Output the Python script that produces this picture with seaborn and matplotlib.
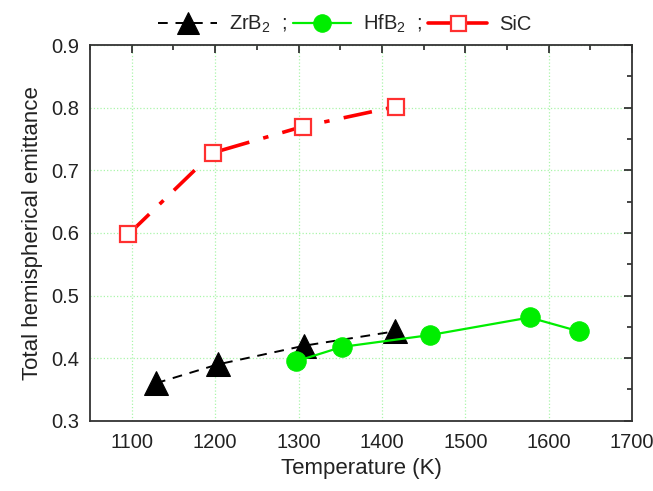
import matplotlib
matplotlib.use("Agg")
import matplotlib.pyplot as plt
import seaborn as sns
import pandas as pd
from matplotlib.ticker import MultipleLocator

# Data
zr_T = [1129, 1203, 1307, 1416]
zr_e = [0.360, 0.390, 0.420, 0.443]
hf_T = [1297, 1352, 1458, 1577, 1636]
hf_e = [0.395, 0.418, 0.437, 0.465, 0.443]
sic_T = [1096, 1197, 1305, 1417]
sic_e = [0.598, 0.728, 0.770, 0.802]

x_ticks = [1100, 1200, 1300, 1400, 1500, 1600, 1700]
y_ticks = [0.3, 0.4, 0.5, 0.6, 0.7, 0.8, 0.9]

sns.set_style("white")
plt.rcParams['font.family'] = ['Liberation Sans', 'DejaVu Sans']
plt.rcParams['mathtext.fontset'] = 'custom'
plt.rcParams['mathtext.rm'] = 'Liberation Sans'
plt.rcParams['mathtext.it'] = 'Liberation Sans'

fig = plt.figure(figsize=(6.53, 4.91), dpi=100)
ax = fig.add_axes([0.138, 0.143, 0.83, 0.765])

sns.lineplot(x=zr_T, y=zr_e, ax=ax, sort=False, color='black', linestyle=(0, (5, 4)),
             linewidth=1.4, marker='^', markersize=17, markeredgecolor='black',
             label='ZrB$_2$  ;')
sns.lineplot(x=hf_T, y=hf_e, ax=ax, sort=False, color='#00ee00', linestyle='-',
             linewidth=1.6, marker='o', markersize=14, markeredgecolor='#00ee00',
             label='HfB$_2$  ;')
sns.lineplot(x=sic_T, y=sic_e, ax=ax, sort=False, color='red', linestyle=(0, (8, 4, 1.5, 4)),
             linewidth=2.6, marker='s', markersize=12, markerfacecolor='white',
             markeredgecolor='#ff3030', markeredgewidth=1.6, label='SiC')

ax.set_xlim(1050, 1700)
ax.set_ylim(0.3, 0.9)
ax.set_xticks(x_ticks)
ax.set_yticks(y_ticks)
ax.set_xticklabels([str(t) for t in x_ticks])
ax.set_yticklabels([f"{t:.1f}" for t in y_ticks])
ax.xaxis.set_minor_locator(MultipleLocator(50))
ax.yaxis.set_minor_locator(MultipleLocator(0.05))
ax.tick_params(which='major', direction='in', length=6, width=1.2, top=True, right=True,
               labelsize=14.5, colors='#222222')
ax.tick_params(axis='x', which='major', pad=9)
ax.tick_params(axis='y', which='major', pad=8)
ax.tick_params(which='minor', direction='in', length=3.5, width=1.2, top=True, right=True)
ax.grid(True, which='major', color='#aaf5aa', linestyle=':', linewidth=0.9)
for s in ax.spines.values():
    s.set_visible(True)
    s.set_color('#333333')
    s.set_linewidth(1.3)

ax.set_xlabel('Temperature (K)', fontsize=16, color='#222222', labelpad=4)
ax.set_ylabel('Total hemispherical emittance', fontsize=16, color='#222222', labelpad=6)

leg = ax.legend(loc='lower center', bbox_to_anchor=(0.47, 1.0), ncol=3, frameon=False,
                fontsize=14.5, handlelength=2.9, columnspacing=0.3, handletextpad=0.6,
                borderaxespad=0.1, markerscale=0.9)
leg.get_lines()[2].set_linestyle('-')

fig.savefig('out.png', dpi=100, facecolor='white')
